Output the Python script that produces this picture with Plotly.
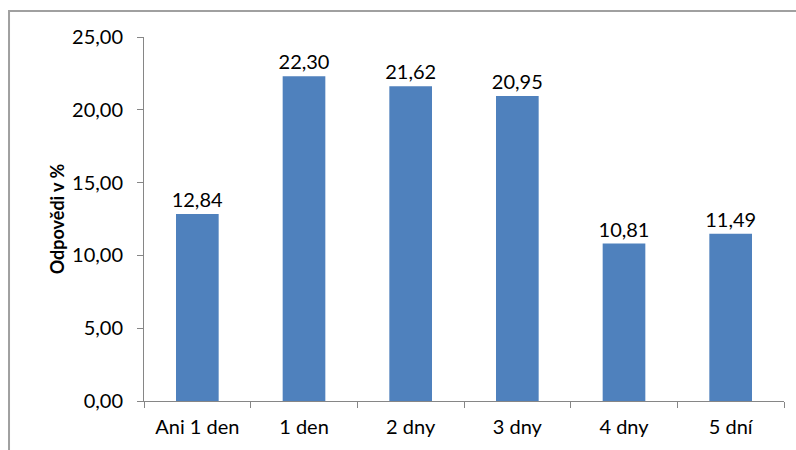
import plotly.graph_objects as go

categories = ["Ani 1 den", "1 den", "2 dny", "3 dny", "4 dny", "5 dní"]
values = [12.84, 22.30, 21.62, 20.95, 10.81, 11.49]
y_ticks = [0, 5, 10, 15, 20, 25]
y_tick_labels = ["0,00", "5,00", "10,00", "15,00", "20,00", "25,00"]

FONT = "Lato, Open Sans, sans-serif"
AXIS_GREY = "#868686"

fig = go.Figure(
    go.Bar(
        x=categories,
        y=values,
        marker=dict(color="#4F81BD", line=dict(width=0)),
        texttemplate="%{y:.2f}",
        textposition="outside",
        constraintext="none",
        textfont=dict(family=FONT, size=20, color="#000000"),
        cliponaxis=False,
    )
)

fig.update_layout(
    width=796,
    height=450,
    margin=dict(l=144, r=12, t=37, b=49),
    paper_bgcolor="white",
    plot_bgcolor="white",
    separators=", ",
    bargap=0.6,
    showlegend=False,
    font=dict(family=FONT, size=20, color="#000000"),
    shapes=[
        dict(
            type="rect",
            xref="paper",
            yref="paper",
            x0=-0.2109,
            x1=1.05,
            y0=-0.2,
            y1=1.0714,
            line=dict(color="#A0A0A0", width=2),
            fillcolor="rgba(0,0,0,0)",
            layer="below",
        )
    ],
)

fig.update_xaxes(
    showline=True,
    linecolor=AXIS_GREY,
    linewidth=1,
    ticks="outside",
    tickson="boundaries",
    ticklen=6,
    tickcolor=AXIS_GREY,
    showgrid=False,
    ticklabelstandoff=8,
    tickfont=dict(family=FONT, size=20),
)

fig.update_yaxes(
    range=[0, 25],
    tickvals=y_ticks,
    ticktext=y_tick_labels,
    showline=True,
    linecolor=AXIS_GREY,
    linewidth=1,
    ticks="outside",
    ticklen=6,
    tickcolor=AXIS_GREY,
    showgrid=False,
    zeroline=False,
    ticklabelstandoff=10,
    tickfont=dict(family=FONT, size=20),
    title=dict(
        text="<b>Odpovědi v %</b>",
        font=dict(family=FONT, size=18),
        standoff=2,
    ),
)

fig.write_html("out.html")
